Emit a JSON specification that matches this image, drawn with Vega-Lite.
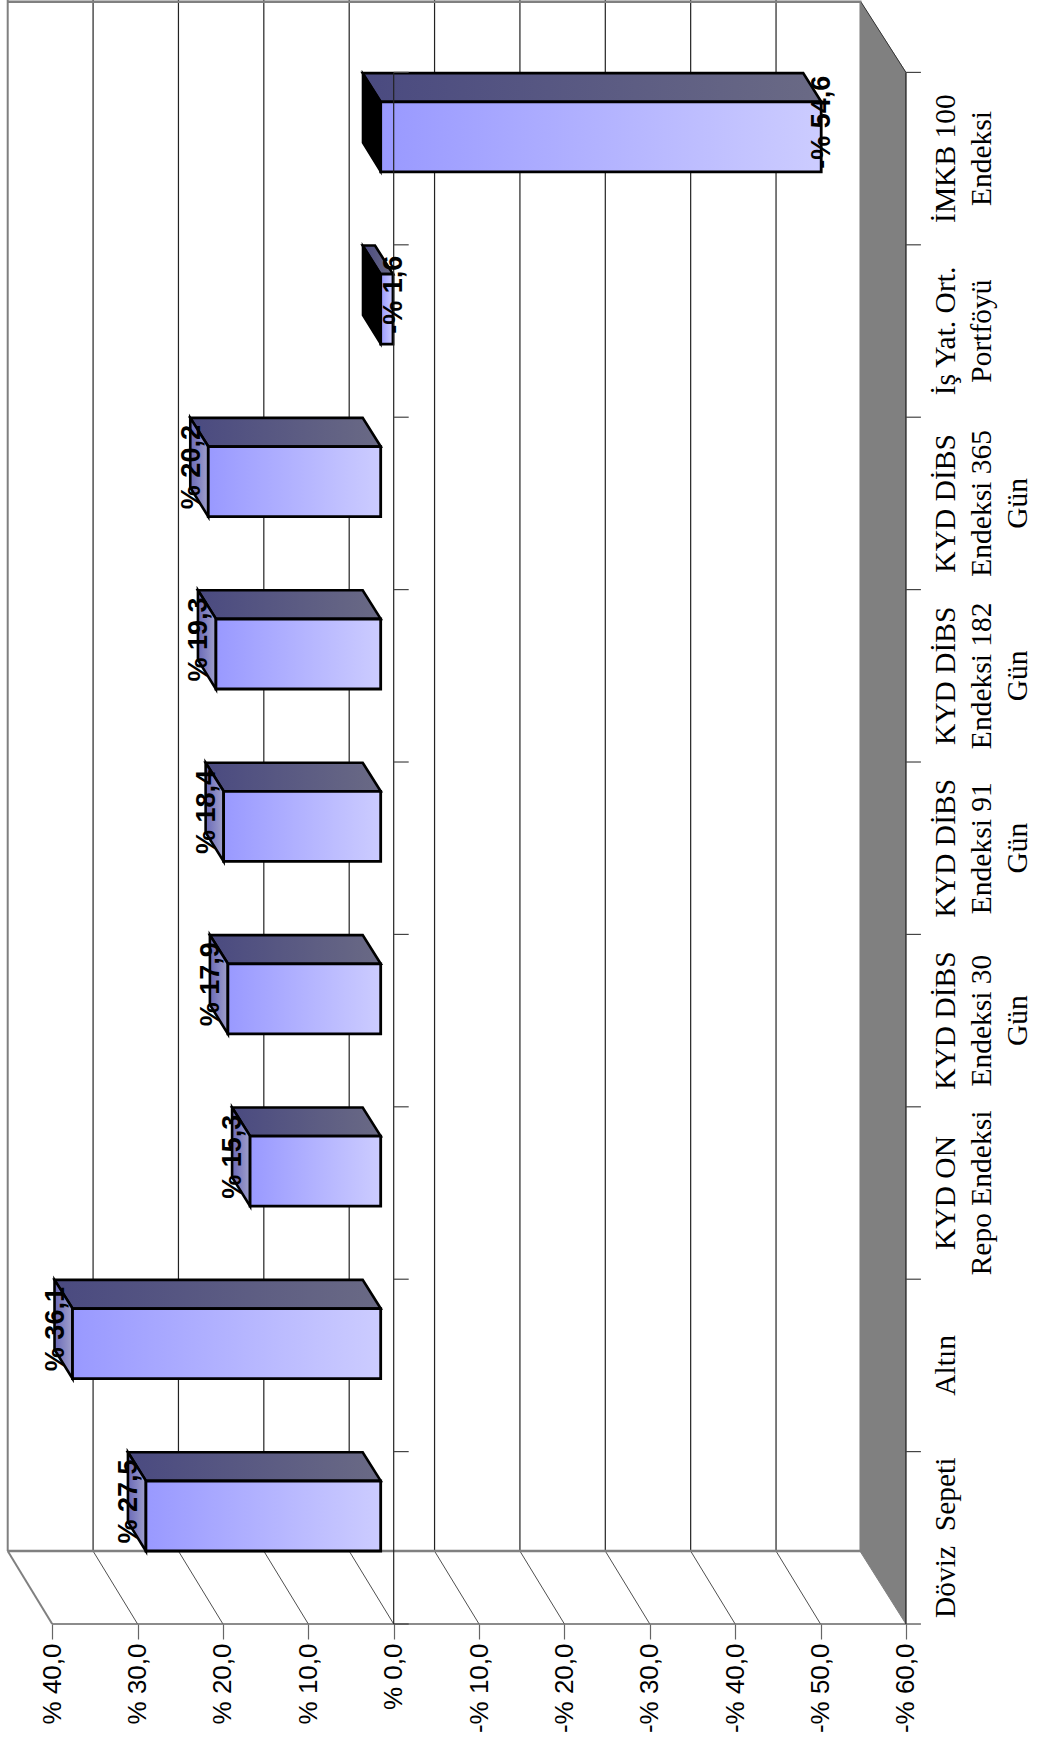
{"$schema":"https://vega.github.io/schema/vega-lite/v6.json","width":1039,"height":1744,"autosize":{"type":"none"},"padding":0,"background":"white","config":{"view":{"stroke":null},"axis":{"grid":false},"scale":{"continuousPadding":0}},
"datasets":{
"grid":[{"v":40},{"v":30},{"v":20},{"v":10},{"v":0},{"v":-10},{"v":-20},{"v":-30},{"v":-40},{"v":-50},{"v":-60}],
"inner":[{"v":30},{"v":20},{"v":10},{"v":0},{"v":-10},{"v":-20},{"v":-30},{"v":-40},{"v":-50}],
"ticks":[{"c":0},{"c":1},{"c":2},{"c":3},{"c":4},{"c":5},{"c":6},{"c":7},{"c":8},{"c":9}],
"cats":[
{"i":0,"mid":0.5,"name":"Döviz \u00a0Sepeti","value":27.5,"label":"% 27,5"},
{"i":1,"mid":1.5,"name":"Altın","value":36.1,"label":"% 36,1"},
{"i":2,"mid":2.5,"name":"KYD ON\nRepo Endeksi","value":15.3,"label":"% 15,3"},
{"i":3,"mid":3.5,"name":"KYD DİBS\nEndeksi 30\nGün","value":17.9,"label":"% 17,9"},
{"i":4,"mid":4.5,"name":"KYD DİBS\nEndeksi 91\nGün","value":18.4,"label":"% 18,4"},
{"i":5,"mid":5.5,"name":"KYD DİBS\nEndeksi 182\nGün","value":19.3,"label":"% 19,3"},
{"i":6,"mid":6.5,"name":"KYD DİBS\nEndeksi 365\nGün","value":20.2,"label":"% 20,2"},
{"i":7,"mid":7.5,"name":"İş Yat. Ort.\nPortföyü","value":-1.44,"label":"-% 1,6"},
{"i":8,"mid":8.5,"name":"İMKB 100\nEndeksi","value":-51.6,"label":"-% 54,6"}],
"faces":[
{"id":"t0","face":"top","ord":[0,1,2,3,4],"vx":[29.02,31.13,3.63,1.52,29.02],"vy":[0.83,0.996,0.996,0.83,0.83]},
{"id":"t1","face":"top","ord":[0,1,2,3,4],"vx":[37.62,39.73,3.63,1.52,37.62],"vy":[1.83,1.996,1.996,1.83,1.83]},
{"id":"t2","face":"top","ord":[0,1,2,3,4],"vx":[16.82,18.93,3.63,1.52,16.82],"vy":[2.83,2.996,2.996,2.83,2.83]},
{"id":"t3","face":"top","ord":[0,1,2,3,4],"vx":[19.42,21.53,3.63,1.52,19.42],"vy":[3.83,3.996,3.996,3.83,3.83]},
{"id":"t4","face":"top","ord":[0,1,2,3,4],"vx":[19.92,22.03,3.63,1.52,19.92],"vy":[4.83,4.996,4.996,4.83,4.83]},
{"id":"t5","face":"top","ord":[0,1,2,3,4],"vx":[20.82,22.93,3.63,1.52,20.82],"vy":[5.83,5.996,5.996,5.83,5.83]},
{"id":"t6","face":"top","ord":[0,1,2,3,4],"vx":[21.72,23.83,3.63,1.52,21.72],"vy":[6.83,6.996,6.996,6.83,6.83]},
{"id":"t7","face":"top","ord":[0,1,2,3,4],"vx":[1.52,3.63,2.19,0.08,1.52],"vy":[7.83,7.996,7.996,7.83,7.83]},
{"id":"t8","face":"top","ord":[0,1,2,3,4],"vx":[1.52,3.63,-47.97,-50.08,1.52],"vy":[8.83,8.996,8.996,8.83,8.83]},
{"id":"l0","face":"left","ord":[0,1,2,3,4],"vx":[29.02,31.13,31.13,29.02,29.02],"vy":[0.83,0.996,0.592,0.423,0.83]},
{"id":"l1","face":"left","ord":[0,1,2,3,4],"vx":[37.62,39.73,39.73,37.62,37.62],"vy":[1.83,1.996,1.592,1.423,1.83]},
{"id":"l2","face":"left","ord":[0,1,2,3,4],"vx":[16.82,18.93,18.93,16.82,16.82],"vy":[2.83,2.996,2.592,2.423,2.83]},
{"id":"l3","face":"left","ord":[0,1,2,3,4],"vx":[19.42,21.53,21.53,19.42,19.42],"vy":[3.83,3.996,3.592,3.423,3.83]},
{"id":"l4","face":"left","ord":[0,1,2,3,4],"vx":[19.92,22.03,22.03,19.92,19.92],"vy":[4.83,4.996,4.592,4.423,4.83]},
{"id":"l5","face":"left","ord":[0,1,2,3,4],"vx":[20.82,22.93,22.93,20.82,20.82],"vy":[5.83,5.996,5.592,5.423,5.83]},
{"id":"l6","face":"left","ord":[0,1,2,3,4],"vx":[21.72,23.83,23.83,21.72,21.72],"vy":[6.83,6.996,6.592,6.423,6.83]},
{"id":"n7","face":"neg","ord":[0,1,2,3,4],"vx":[1.52,3.63,3.63,1.52,1.52],"vy":[7.83,7.996,7.592,7.423,7.83]},
{"id":"n8","face":"neg","ord":[0,1,2,3,4],"vx":[1.52,3.63,3.63,1.52,1.52],"vy":[8.83,8.996,8.592,8.423,8.83]},
{"id":"side","face":"side","ord":[0,1,2,3,4],"vx":[-54.62,-60,-60,-54.62,-54.62],"vy":[9.414,9,0,0.423,9.414]}
]},
"layer":[
{"data":{"name":"grid"},"mark":{"type":"rule","opacity":0},"encoding":{"x":{"field":"v","type":"quantitative","title":null,"scale":{"domain":[46.116,-75.59],"range":[0,1039],"nice":false,"zero":false,"padding":0},"axis":{"values":[40,30,20,10,0,-10,-20,-30,-40,-50,-60],"orient":"bottom","offset":-120,"domain":false,"grid":false,"ticks":true,"tickSize":15,"tickColor":"#666666","tickWidth":1.2,"labelAngle":270,"labelAlign":"right","labelBaseline":"middle","labelPadding":4,"labelFont":"Liberation Sans","labelFontSize":26,"labelColor":"#000000","labelOverlap":false,"labelBound":false,"labelFlush":false,"labelExpr":"(datum.value<0?'-':'')+'% '+replace(format(abs(datum.value),'.1f'),'.',',')"}},"y":{"datum":0,"type":"quantitative","title":null,"scale":{"domain":[-0.696,9.42],"range":[1744,0],"nice":false,"zero":false,"padding":0},"axis":null}}},
{"data":{"name":"faces"},"transform":[{"flatten":["ord","vx","vy"]},{"filter":"datum.face==='side'"}],"mark":{"type":"line","fill":"#808080","stroke":"#808080","strokeWidth":1},"encoding":{"x":{"field":"vx","type":"quantitative"},"y":{"field":"vy","type":"quantitative"},"detail":{"field":"id"},"order":{"field":"ord"}}},
{"data":{"name":"inner"},"mark":{"type":"rule","color":"#222222","strokeWidth":1.2,"xOffset":-44.5},"encoding":{"x":{"field":"v","type":"quantitative"},"y":{"datum":0.423,"type":"quantitative"},"y2":{"datum":9.42}}},
{"data":{"name":"inner"},"mark":{"type":"rule","color":"#222222","strokeWidth":0.8,"x2Offset":-44.5},"encoding":{"x":{"field":"v","type":"quantitative"},"x2":{"field":"v"},"y":{"datum":0,"type":"quantitative"},"y2":{"datum":0.423}}},
{"data":{"values":[{"a":-60,"b":-60}]},"mark":{"type":"rule","color":"#333333","strokeWidth":1,"x2Offset":-45.5},"encoding":{"x":{"field":"a","type":"quantitative"},"x2":{"field":"b"},"y":{"datum":9,"type":"quantitative"},"y2":{"datum":9.414}}},
{"data":{"values":[{"a":40,"b":40}]},"mark":{"type":"rule","color":"#808080","strokeWidth":2,"x2Offset":-44.5},"encoding":{"x":{"field":"a","type":"quantitative"},"x2":{"field":"b"},"y":{"datum":0,"type":"quantitative"},"y2":{"datum":0.423}}},
{"data":{"values":[{"a":40}]},"mark":{"type":"rule","color":"#808080","strokeWidth":2,"xOffset":-44.5},"encoding":{"x":{"field":"a","type":"quantitative"},"y":{"datum":0.423,"type":"quantitative"},"y2":{"datum":9.42}}},
{"data":{"values":[{"a":40,"b":-60,"y":0.423},{"a":40,"b":-60,"y":9.41}]},"mark":{"type":"rule","color":"#808080","strokeWidth":2.5,"xOffset":-44.5,"x2Offset":-44.5},"encoding":{"x":{"field":"a","type":"quantitative"},"x2":{"field":"b"},"y":{"field":"y","type":"quantitative"}}},
{"data":{"values":[{"a":40,"b":-60,"y":0}]},"mark":{"type":"rule","color":"#666666","strokeWidth":1.5},"encoding":{"x":{"field":"a","type":"quantitative"},"x2":{"field":"b"},"y":{"field":"y","type":"quantitative"}}},
{"data":{"name":"faces"},"transform":[{"flatten":["ord","vx","vy"]},{"filter":"datum.face==='top'"}],"mark":{"type":"line","stroke":"#000000","strokeWidth":2.6,"strokeJoin":"miter","fill":{"x1":0,"y1":0,"x2":1,"y2":0,"gradient":"linear","stops":[{"offset":0,"color":"#4a4a80"},{"offset":1,"color":"#6a6a85"}]}},"encoding":{"x":{"field":"vx","type":"quantitative"},"y":{"field":"vy","type":"quantitative"},"detail":{"field":"id"},"order":{"field":"ord"}}},
{"data":{"name":"faces"},"transform":[{"flatten":["ord","vx","vy"]},{"filter":"datum.face==='left'"}],"mark":{"type":"line","stroke":"#000000","strokeWidth":2.6,"strokeJoin":"miter","fill":{"x1":0,"y1":0,"x2":1,"y2":0,"gradient":"linear","stops":[{"offset":0,"color":"#6a6ab8"},{"offset":1,"color":"#a0a0cc"}]}},"encoding":{"x":{"field":"vx","type":"quantitative"},"y":{"field":"vy","type":"quantitative"},"detail":{"field":"id"},"order":{"field":"ord"}}},
{"data":{"name":"faces"},"transform":[{"flatten":["ord","vx","vy"]},{"filter":"datum.face==='neg'"}],"mark":{"type":"line","stroke":"#000000","strokeWidth":2,"strokeJoin":"miter","fill":"#000000"},"encoding":{"x":{"field":"vx","type":"quantitative"},"y":{"field":"vy","type":"quantitative"},"detail":{"field":"id"},"order":{"field":"ord"}}},
{"data":{"name":"cats"},"mark":{"type":"bar","orient":"horizontal","size":70,"xOffset":-13,"x2Offset":-13,"yOffset":-108,"stroke":"#000000","strokeWidth":2.8,"fill":{"x1":0,"y1":0,"x2":1,"y2":0,"gradient":"linear","stops":[{"offset":0,"color":"#9999ff"},{"offset":1,"color":"#ccccff"}]}},"encoding":{"x":{"field":"value","type":"quantitative"},"x2":{"datum":0},"y":{"field":"i","type":"quantitative"}}},
{"data":{"values":[{"a":0},{"a":-60}]},"mark":{"type":"rule","color":"#222222","strokeWidth":1.2},"encoding":{"x":{"field":"a","type":"quantitative"},"y":{"datum":0,"type":"quantitative"},"y2":{"datum":9}}},
{"data":{"name":"ticks"},"mark":{"type":"rule","color":"#444444","strokeWidth":1.2,"x2Offset":15},"encoding":{"x":{"datum":0,"type":"quantitative"},"x2":{"datum":0},"y":{"field":"c","type":"quantitative"}}},
{"data":{"name":"ticks"},"mark":{"type":"rule","color":"#444444","strokeWidth":1.2,"x2Offset":15},"encoding":{"x":{"datum":-60,"type":"quantitative"},"x2":{"datum":-60},"y":{"field":"c","type":"quantitative"}}},
{"data":{"name":"cats"},"transform":[{"filter":"datum.value>0"}],"mark":{"type":"text","font":"Liberation Sans","fontWeight":"bold","fontSize":27,"angle":270,"align":"center","baseline":"alphabetic","color":"#000000","xOffset":-21.7,"yOffset":-122.5},"encoding":{"x":{"field":"value","type":"quantitative"},"y":{"field":"i","type":"quantitative"},"text":{"field":"label"}}},
{"data":{"name":"cats"},"transform":[{"filter":"datum.value<0"}],"mark":{"type":"text","font":"Liberation Sans","fontWeight":"bold","fontSize":27,"angle":270,"align":"center","baseline":"alphabetic","color":"#000000","xOffset":-4,"yOffset":-122.5},"encoding":{"x":{"field":"value","type":"quantitative"},"y":{"field":"i","type":"quantitative"},"text":{"field":"label"}}},
{"data":{"name":"cats"},"mark":{"type":"text","font":"Liberation Serif","fontSize":29.5,"angle":270,"align":"center","baseline":"alphabetic","lineBreak":"\n","lineHeight":36,"color":"#000000"},"encoding":{"x":{"datum":-65.75,"type":"quantitative"},"y":{"field":"mid","type":"quantitative"},"text":{"field":"name"}}}
]}
